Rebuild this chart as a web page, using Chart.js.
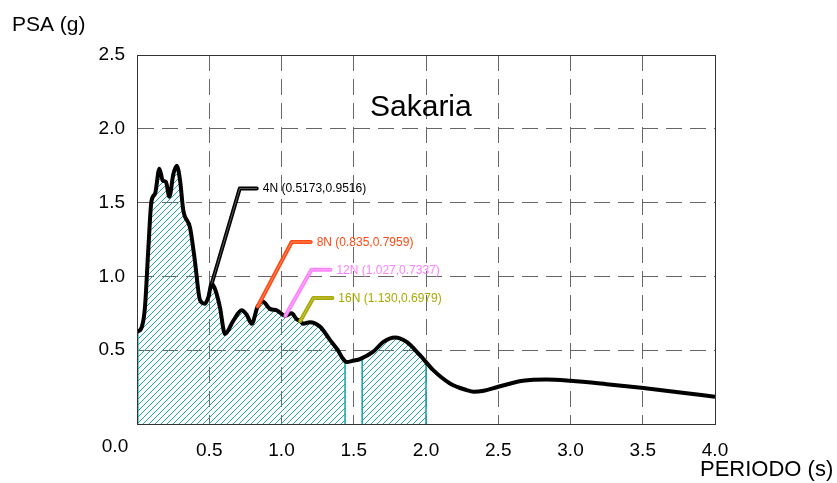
<!DOCTYPE html>
<html>
<head>
<meta charset="utf-8">
<script src="https://cdn.jsdelivr.net/npm/chart.js@4/dist/chart.umd.min.js"></script>
<style>
  html, body { margin: 0; padding: 0; background: #fff; }
  #wrap { width: 837px; height: 483px; }
</style>
</head>
<body>
<div id="wrap"><canvas id="psa" width="837" height="483"></canvas></div>
<script>
// Response spectrum (PSA vs. period), Sakaria record
const periods = [0, 0.033, 0.055, 0.078, 0.10, 0.125, 0.155, 0.178, 0.20, 0.224,
  0.251, 0.275, 0.298, 0.32, 0.367, 0.40, 0.436, 0.47, 0.494, 0.5173,
  0.545, 0.574, 0.609, 0.667, 0.724, 0.759, 0.794, 0.835, 0.87, 0.92,
  0.967, 1.027, 1.07, 1.105, 1.130, 1.15, 1.197, 1.266, 1.335, 1.39,
  1.42, 1.451, 1.50, 1.543, 1.635, 1.705, 1.785, 1.866, 1.958, 2.05,
  2.166, 2.28, 2.33, 2.40, 2.50, 2.67, 2.835, 3.0, 3.25, 3.49,
  3.76, 4.0];
const psa = [0.624, 0.657, 0.79, 1.18, 1.51, 1.56, 1.73, 1.65, 1.64, 1.54,
  1.69, 1.75, 1.65, 1.45, 1.33, 1.11, 0.84, 0.815, 0.86, 0.9516,
  0.90, 0.79, 0.61, 0.70, 0.77, 0.74, 0.68, 0.7959, 0.83, 0.78,
  0.77, 0.7337, 0.75, 0.71, 0.6979, 0.68, 0.69, 0.66, 0.57, 0.50,
  0.45, 0.42, 0.43, 0.44, 0.49, 0.556, 0.586, 0.556, 0.466, 0.365,
  0.275, 0.23, 0.218, 0.225, 0.252, 0.293, 0.302, 0.293, 0.27, 0.245,
  0.214, 0.185];

// Axis ticks
const xTicks = [0, 0.5, 1.0, 1.5, 2.0, 2.5, 3.0, 3.5, 4.0];
const yTicks = [0, 0.5, 1.0, 1.5, 2.0, 2.5];

// Hatched period bands under the spectrum
const shadedBands = [[1.553, 2.0], [0, 1.44]];

// Natural periods marked on the spectrum
const calloutNames = ['4N', '8N', '12N', '16N'];
const calloutPeriods = [0.5173, 0.835, 1.027, 1.130];
const calloutPSA = [0.9516, 0.7959, 0.7337, 0.6979];
const calloutLabels = ['(0.5173,0.9516)', '(0.835,0.7959)', '(1.027,0.7337)', '(1.130,0.6979)'];

const FONT = '"Liberation Sans", Arial, Helvetica, sans-serif';
const TEAL = 'rgb(31,168,168)';

// Dense polyline following the drawn (monotone bezier) spectrum curve
function curveSamples(pts) {
  const out = [[pts[0].x, pts[0].y]];
  for (let i = 0; i < pts.length - 1; i++) {
    const p = pts[i], q = pts[i + 1];
    const c1x = p.cp2x ?? p.x, c1y = p.cp2y ?? p.y;
    const c2x = q.cp1x ?? q.x, c2y = q.cp1y ?? q.y;
    for (let s = 1; s <= 24; s++) {
      const t = s / 24, u = 1 - t;
      out.push([
        u * u * u * p.x + 3 * u * u * t * c1x + 3 * u * t * t * c2x + t * t * t * q.x,
        u * u * u * p.y + 3 * u * u * t * c1y + 3 * u * t * t * c2y + t * t * t * q.y
      ]);
    }
  }
  return out;
}

function curveYAt(samples, px) {
  let lo = 0, hi = samples.length - 1;
  if (px <= samples[0][0]) return samples[0][1];
  if (px >= samples[hi][0]) return samples[hi][1];
  while (hi - lo > 1) {
    const mid = (lo + hi) >> 1;
    if (samples[mid][0] <= px) lo = mid; else hi = mid;
  }
  const [ax, ay] = samples[lo], [bx, by] = samples[hi];
  return bx === ax ? ay : ay + (by - ay) * (px - ax) / (bx - ax);
}

const sheet = {
  id: 'sheet',
  beforeDatasetsDraw(chart, args, opts) {
    const { ctx, chartArea: a, scales: { x, y } } = chart;
    const pts = chart.getDatasetMeta(0).data;
    const samples = curveSamples(pts);
    const base = y.getPixelForValue(0);
    const H = base - a.top;
    const step = 0.5;
    const g = opts.hatchStep;
    // one hatch lattice shared by all bands
    const origin = Math.round(a.left) - Math.ceil(H / g) * g;
    for (const [t0, t1] of shadedBands) {
      const x0 = x.getPixelForValue(t0);
      const x1 = x.getPixelForValue(t1);
      ctx.save();
      ctx.strokeStyle = TEAL;
      ctx.lineWidth = 1;
      ctx.beginPath();
      for (let k = origin; k < x1; k += g) {
        if (k + H < x0) continue;
        const from = Math.max(x0, k), to = Math.min(x1, k + H);
        let runStart = null, prev = null;
        for (let px = from; px <= to + 1e-6; px += step) {
          const ly = base - (px - k);
          const inside = ly >= curveYAt(samples, px);
          if (inside && runStart === null) runStart = px;
          if (!inside && runStart !== null) {
            ctx.moveTo(runStart, base - (runStart - k));
            ctx.lineTo(prev, base - (prev - k));
            runStart = null;
          }
          prev = px;
        }
        if (runStart !== null && prev > runStart) {
          ctx.moveTo(runStart, base - (runStart - k));
          ctx.lineTo(prev, base - (prev - k));
        }
      }
      ctx.stroke();
      // band edges
      ctx.lineWidth = 1.6;
      ctx.beginPath();
      ctx.moveTo(x0 + 0.8, base); ctx.lineTo(x0 + 0.8, curveYAt(samples, x0 + 0.8));
      ctx.moveTo(x1, base); ctx.lineTo(x1, curveYAt(samples, x1));
      ctx.stroke();
      ctx.restore();
    }
  },
  afterDatasetsDraw(chart, args, opts) {
    const { ctx, chartArea: a, scales: { x, y } } = chart;
    // frame
    ctx.save();
    ctx.strokeStyle = '#333';
    ctx.lineWidth = 1;
    ctx.strokeRect(Math.round(a.left) + 0.5, Math.round(a.top) + 0.5,
      Math.round(a.right - a.left), Math.round(a.bottom - a.top));
    ctx.restore();

    // leader lines with period labels
    calloutNames.forEach((name, i) => {
      const L = opts.leaders[i];
      const px = x.getPixelForValue(calloutPeriods[i]);
      const py = y.getPixelForValue(calloutPSA[i]);
      const ex = px + L.dx, ey = py + L.dy;
      ctx.save();
      ctx.lineCap = 'round';
      ctx.lineJoin = 'round';
      ctx.strokeStyle = L.color;
      ctx.lineWidth = 4;
      ctx.beginPath();
      ctx.moveTo(px, py); ctx.lineTo(ex, ey); ctx.lineTo(ex + L.len, ey);
      ctx.stroke();
      ctx.strokeStyle = 'rgba(255,255,255,0.35)';
      ctx.lineWidth = 1;
      ctx.stroke();
      ctx.fillStyle = L.color;
      ctx.font = '12px ' + FONT;
      ctx.textBaseline = 'middle';
      ctx.textAlign = 'left';
      ctx.fillText(name + ' ' + calloutLabels[i], ex + L.len + 6, ey + 0.5);
      ctx.restore();
    });

    // chart title inside the plot
    ctx.save();
    ctx.fillStyle = '#000';
    ctx.font = '30px ' + FONT;
    ctx.textBaseline = 'alphabetic';
    ctx.textAlign = 'left';
    ctx.fillText('Sakaria', 370, 116);
    ctx.restore();
  },
  afterDraw(chart) {
    const { ctx, chartArea: a } = chart;
    ctx.save();
    ctx.fillStyle = '#000';
    ctx.textBaseline = 'alphabetic';
    ctx.font = '19px ' + FONT;
    ctx.textAlign = 'center';
    ctx.fillText('0.0', a.left - 22, 452);
    ctx.textAlign = 'left';
    ctx.font = '21px ' + FONT;
    ctx.fillText('PSA (g)', 12, 31);
    ctx.font = '22px ' + FONT;
    ctx.fillText('PERIODO (s)', 700, 476);
    ctx.restore();
  }
};

const tickFmt = v => (v === 0 ? '' : v.toFixed(1));

new Chart(document.getElementById('psa'), {
  type: 'line',
  data: {
    datasets: [{
      data: periods.map((t, i) => ({ x: t, y: psa[i] })),
      borderColor: '#000',
      backgroundColor: 'rgba(0,0,0,0)',
      borderWidth: 4,
      pointRadius: 0,
      cubicInterpolationMode: 'monotone',
      fill: false
    }]
  },
  options: {
    responsive: false,
    animation: false,
    events: [],
    layout: { padding: { top: 55, right: 122, left: 0, bottom: 0 } },
    plugins: {
      legend: { display: false },
      tooltip: { enabled: false },
      sheet: {
        hatchStep: 6,
        leaders: [
          { dx: 28, dy: -95, len: 17, color: '#000000' },
          { dx: 34, dy: -64.5, len: 19, color: '#ff4a14' },
          { dx: 26, dy: -46, len: 19, color: '#ff80ff' },
          { dx: 13, dy: -23, len: 19, color: '#a8a800' }
        ]
      }
    },
    scales: {
      x: {
        type: 'linear',
        min: 0, max: 4,
        afterBuildTicks: s => { s.ticks = xTicks.map(v => ({ value: v })); },
        afterFit: s => { s.height = 59; },
        ticks: { callback: tickFmt, color: '#000', font: { family: FONT, size: 19 }, padding: 15, maxRotation: 0 },
        grid: { color: '#666', lineWidth: 1, drawTicks: false },
        border: { display: true, color: '#333', width: 1, dash: [16, 8] }
      },
      y: {
        type: 'linear',
        min: 0, max: 2.5,
        afterBuildTicks: s => { s.ticks = yTicks.map(v => ({ value: v })); },
        afterFit: s => { s.width = 137; },
        ticks: { callback: tickFmt, color: '#000', font: { family: FONT, size: 19 }, padding: 12 },
        grid: { color: '#666', lineWidth: 1, drawTicks: false },
        border: { display: true, color: '#333', width: 1, dash: [16, 8] }
      }
    }
  },
  plugins: [sheet]
});
</script>
</body>
</html>
